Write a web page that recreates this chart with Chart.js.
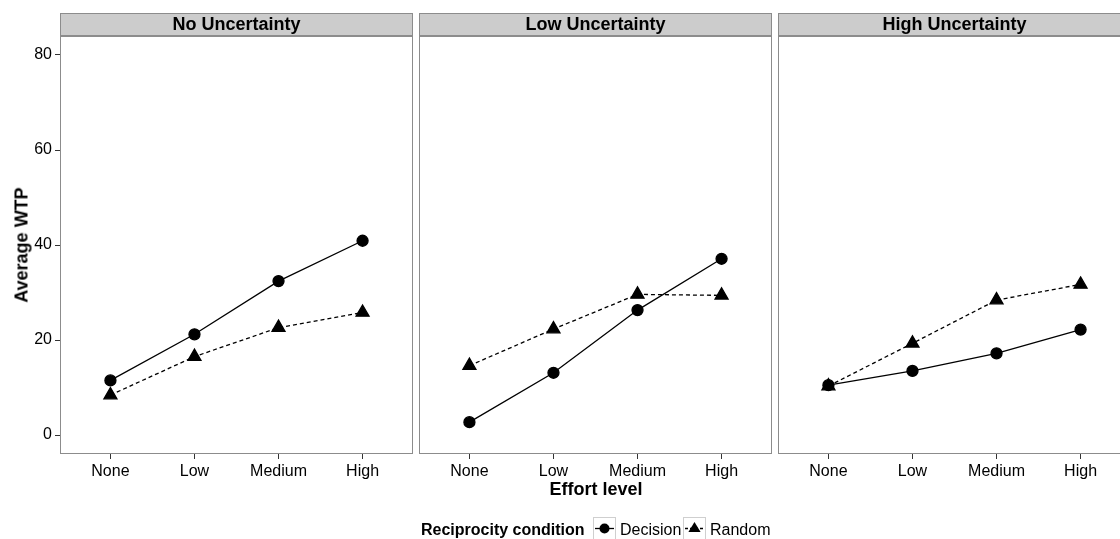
<!DOCTYPE html>
<html>
<head>
<meta charset="utf-8">
<script src="https://cdn.jsdelivr.net/npm/chart.js@4.4.0/dist/chart.umd.min.js"></script>
<style>
  html, body { margin: 0; padding: 0; background: #fff; overflow: hidden; }
  #wrap { position: relative; width: 1120px; height: 539px; overflow: hidden;
          font-family: "Liberation Sans", Arial, sans-serif; color: #000; }
  .panel { position: absolute; top: 13px; height: 471px; }
  .ytitle { position: absolute; left: 22px; top: 245px; transform: translate(-50%, -50%) rotate(-90deg);
            font-weight: bold; font-size: 18px; white-space: nowrap; }
  .xtitle { position: absolute; left: 596px; top: 489px; transform: translate(-50%, -50%);
            font-weight: bold; font-size: 18px; white-space: nowrap; }
  .leg { position: absolute; top: 517px; height: 23px; line-height: 23px; font-size: 16px; white-space: nowrap; }
  .leg svg { display: block; }
</style>
</head>
<body>
<div id="wrap">
  <div class="panel" style="left:0;width:413px"><canvas id="c1"></canvas></div>
  <div class="panel" style="left:419px;width:353px"><canvas id="c2"></canvas></div>
  <div class="panel" style="left:778px;width:353px"><canvas id="c3"></canvas></div>
  <div class="ytitle">Average WTP</div>
  <div class="xtitle">Effort level</div>
  <div class="leg" style="left:421px;top:518px"><b>Reciprocity condition</b></div>
  <div class="leg" style="left:593px">
    <svg width="23" height="23">
      <rect x="0.5" y="0.5" width="22" height="22" fill="#fff" stroke="#cfcfcf"/>
      <line x1="2" y1="11.5" x2="21" y2="11.5" stroke="#000" stroke-width="1.3"/>
      <circle cx="11.5" cy="11.5" r="5" fill="#000"/>
    </svg>
  </div>
  <div class="leg" style="left:620px;top:518px">Decision</div>
  <div class="leg" style="left:683px">
    <svg width="23" height="23">
      <rect x="0.5" y="0.5" width="22" height="22" fill="#fff" stroke="#cfcfcf"/>
      <line x1="2" y1="11.5" x2="21" y2="11.5" stroke="#000" stroke-width="1.3" stroke-dasharray="3,2"/>
      <polygon points="11.5,5 17.6,15 5.4,15" fill="#000"/>
    </svg>
  </div>
  <div class="leg" style="left:710px;top:518px">Random</div>
</div>
<script>
const effortLevels = ['None', 'Low', 'Medium', 'High'];
const facetTitles = ['No Uncertainty', 'Low Uncertainty', 'High Uncertainty'];
const yTicks = [0, 20, 40, 60, 80];

// average WTP per effort level
const decisionNoUnc = [11.5, 21.2, 32.4, 40.9];
const randomNoUnc = [8.4, 16.5, 22.6, 25.8];
const decisionLowUnc = [2.7, 13.1, 26.3, 37.1];
const randomLowUnc = [14.6, 22.3, 29.6, 29.4];
const decisionHighUnc = [10.5, 13.5, 17.2, 22.2];
const randomHighUnc = [10.3, 19.3, 28.4, 31.7];

Chart.defaults.font.family = '"Liberation Sans", Arial, sans-serif';

const panelFrame = {
  id: 'panelFrame',
  afterDraw(chart, args, opts) {
    const ctx = chart.ctx;
    const a = chart.chartArea;
    ctx.save();
    ctx.strokeStyle = '#8c8c8c';
    ctx.lineWidth = 1;
    ctx.strokeRect(a.left + 0.5, a.top + 0.5, a.right - a.left - 1, a.bottom - a.top - 1);
    // facet strip
    ctx.fillStyle = '#cccccc';
    ctx.fillRect(a.left, 0, a.right - a.left, a.top);
    ctx.strokeRect(a.left + 0.5, 0.5, a.right - a.left - 1, a.top - 1);
    ctx.fillStyle = '#000';
    ctx.font = 'bold 18px "Liberation Sans", Arial, sans-serif';
    ctx.textAlign = 'center';
    ctx.textBaseline = 'middle';
    ctx.fillText(opts.text, (a.left + a.right) / 2, a.top / 2 + 1);
    ctx.restore();
  }
};

function toPoints(vals) {
  return vals.map((v, i) => ({x: i + 1, y: v}));
}

function makePanel(id, title, decision, random, showY) {
  const ctx = document.getElementById(id).getContext('2d');
  return new Chart(ctx, {
    type: 'line',
    data: {
      datasets: [
        {
          label: 'Decision',
          data: toPoints(decision),
          borderColor: '#000',
          backgroundColor: '#000',
          borderWidth: 1.3,
          pointStyle: 'circle',
          pointRadius: 5.5,
          pointHoverRadius: 5.5,
          tension: 0
        }, {
          label: 'Random',
          data: toPoints(random),
          borderColor: '#000',
          backgroundColor: '#000',
          borderWidth: 1.3,
          borderDash: [4, 3],
          pointStyle: 'triangle',
          pointRadius: 7.5,
          pointHoverRadius: 7.5,
          tension: 0
        }
      ]
    },
    options: {
      responsive: true,
      maintainAspectRatio: false,
      animation: false,
      layout: {autoPadding: false, padding: {top: 23, left: 0, right: 0, bottom: 0}},
      plugins: {
        legend: {display: false},
        tooltip: {enabled: false},
        panelFrame: {text: title}
      },
      scales: {
        x: {
          type: 'linear',
          min: 0.4,
          max: 4.6,
          afterBuildTicks: s => { s.ticks = effortLevels.map((_, i) => ({value: i + 1})); },
          afterFit: s => {
            s.height = 30;
            s.paddingLeft = 0;
            s.paddingRight = 0;
          },
          grid: {display: true, drawOnChartArea: false, drawTicks: true, tickLength: 5, color: '#333'},
          border: {display: false},
          ticks: {
            callback: v => effortLevels[v - 1],
            font: {size: 16},
            color: '#000',
            padding: 3,
            autoSkip: false,
            maxRotation: 0
          }
        },
        y: {
          display: showY,
          min: -4,
          max: 84,
          afterBuildTicks: s => { s.ticks = yTicks.map(v => ({value: v})); },
          afterFit: s => {
            s.width = showY ? 60 : 0;
            s.paddingTop = 0;
            s.paddingBottom = 0;
          },
          grid: {display: true, drawOnChartArea: false, drawTicks: true, tickLength: 5, color: '#333'},
          border: {display: false},
          ticks: {font: {size: 16}, color: '#000', padding: 3}
        }
      }
    },
    plugins: [panelFrame]
  });
}

makePanel('c1', facetTitles[0], decisionNoUnc, randomNoUnc, true);
makePanel('c2', facetTitles[1], decisionLowUnc, randomLowUnc, false);
makePanel('c3', facetTitles[2], decisionHighUnc, randomHighUnc, false);
</script>
</body>
</html>
